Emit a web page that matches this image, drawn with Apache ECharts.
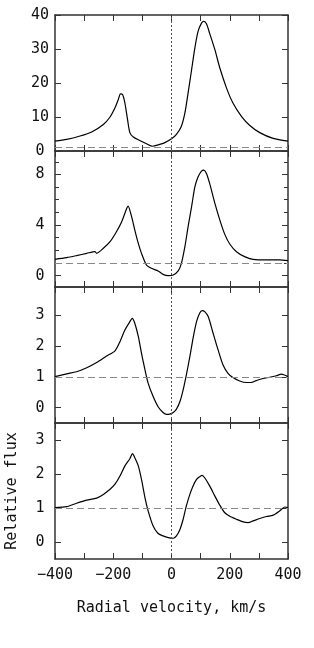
<!DOCTYPE html>
<html>
<head>
<meta charset="utf-8">
<script src="https://cdn.jsdelivr.net/npm/echarts@6/dist/echarts.min.js"></script>
<style>html,body{margin:0;padding:0;background:#fff}#c{width:314px;height:648px}</style>
</head>
<body>
<div id="c"></div>
<script>
// ---- data ----
const vel1 = [-400,-360,-314,-274,-234,-211,-194,-183,-175,-168,-160,-151,-143,-131,-109,-86,-65,-46,-23,0,17,34,46,57,69,80,91,103,111,120,131,149,166,189,211,240,269,303,349,400];
const flux1 = [2.9,3.4,4.4,5.6,7.8,10.0,12.7,15.1,16.8,16.6,14.1,9.3,5.4,4.1,3.1,2.15,1.4,1.8,2.45,3.6,4.9,7.3,11.2,17.1,23.9,30.2,35.1,37.6,38.1,37.4,34.6,29.8,24.4,18.5,14.1,10.2,7.5,5.4,3.7,2.9];

const vel2 = [-400,-360,-326,-291,-263,-257,-234,-211,-189,-171,-154,-149,-137,-126,-114,-103,-86,-69,-46,-29,-11,6,23,34,46,57,69,80,91,103,111,120,131,149,166,183,200,223,251,280,326,371,400];
const flux2 = [1.29,1.42,1.58,1.76,1.9,1.76,2.16,2.68,3.47,4.26,5.3,5.5,4.66,3.6,2.55,1.76,0.84,0.58,0.37,0.1,0.0,0.05,0.37,0.97,2.29,3.87,5.45,7.0,7.8,8.26,8.34,8.08,7.29,5.71,4.39,3.26,2.5,1.89,1.5,1.29,1.24,1.24,1.18];

const vel3 = [-400,-360,-326,-291,-257,-223,-194,-177,-160,-143,-135,-126,-114,-103,-91,-80,-63,-46,-29,-17,-6,6,17,29,40,51,63,74,86,97,105,114,126,143,160,177,194,211,234,257,274,291,314,337,360,377,400];
const flux3 = [1.01,1.1,1.17,1.3,1.47,1.68,1.85,2.15,2.53,2.8,2.91,2.75,2.32,1.77,1.23,0.79,0.36,0.03,-0.16,-0.22,-0.21,-0.16,-0.05,0.2,0.58,1.07,1.66,2.26,2.8,3.08,3.16,3.13,2.97,2.42,1.88,1.39,1.12,0.98,0.87,0.82,0.82,0.88,0.95,0.99,1.04,1.09,1.01];

const vel4 = [-400,-360,-326,-291,-257,-234,-211,-194,-177,-160,-143,-134,-126,-114,-103,-91,-80,-63,-46,-29,-11,6,17,29,40,51,63,74,86,97,105,114,131,149,166,183,200,223,246,263,280,303,326,349,371,389,400];
const flux4 = [1.01,1.04,1.14,1.23,1.29,1.4,1.55,1.7,1.94,2.24,2.45,2.6,2.48,2.24,1.84,1.3,0.91,0.47,0.25,0.18,0.13,0.11,0.18,0.37,0.67,1.06,1.4,1.65,1.84,1.92,1.96,1.89,1.65,1.35,1.08,0.86,0.76,0.67,0.59,0.57,0.62,0.69,0.75,0.79,0.91,1.03,1.01];

const yTicks1 = [0,10,20,30,40];
const yTicks2 = [0,4,8];
const yMinor2 = [1,2,3,5,6,7,9];
const yTicks3 = [0,1,2,3];
const yTicks4 = [0,1,2,3];
const xTickLabels = [-400,-200,0,200,400];
const xName = 'Radial velocity, km/s';
const yName = 'Relative flux';

// ---- layout ----
const FONT = 'DejaVu Sans Mono';
const FRAME = '#333';
const panels = [
  {top:15,  height:136, min:0,    max:40,   ticks:yTicks1, minor:null,   vel:vel1, flux:flux1},
  {top:151, height:136, min:-0.9, max:9.85, ticks:yTicks2, minor:yMinor2, vel:vel2, flux:flux2},
  {top:287, height:136, min:-0.5, max:3.93, ticks:yTicks3, minor:null,   vel:vel3, flux:flux3},
  {top:423, height:136, min:-0.5, max:3.5,  ticks:yTicks4, minor:null,   vel:vel4, flux:flux4}
];

const grid = [], xAxis = [], yAxis = [], series = [];
const fmtNum = v => (v < 0 ? '\u2212' + Math.abs(v) : String(v));

panels.forEach((p, i) => {
  grid.push({left:55, width:233, top:p.top, height:p.height, containLabel:false, outerBoundsMode:'none'});
  const last = i === panels.length - 1;
  ['bottom','top'].forEach(pos => {
    xAxis.push({
      type:'value', gridIndex:i, position:pos, min:-400, max:400, interval:100,
      axisLine:{show:true, onZero:false, lineStyle:{color:FRAME, width:1.5}},
      axisTick:{show:true, inside:true, length:6, lineStyle:{color:FRAME, width:1}},
      splitLine:{show:false},
      axisLabel:{show: last && pos==='bottom', margin:9, color:'#111', fontFamily:FONT, fontSize:15,
        formatter: v => (xTickLabels.indexOf(v) >= 0 ? fmtNum(v) : '')},
      name: (last && pos==='bottom') ? xName : '',
      nameLocation:'middle', nameGap:42,
      nameTextStyle:{color:'#111', fontFamily:FONT, fontSize:15}
    });
  });
  ['left','right'].forEach(pos => {
    yAxis.push({
      type:'value', gridIndex:i, position:pos, min:p.min, max:p.max,
      axisLine:{show:true, onZero:false, lineStyle:{color:FRAME, width:1.5}},
      axisTick:{show:true, inside:true, length:6, customValues:p.ticks, lineStyle:{color:FRAME, width:1}},
      splitLine:{show:false},
      axisLabel:{show: pos==='left', customValues:p.ticks, margin:15, align:'center',
        color:'#111', fontFamily:FONT, fontSize:15},
      name: (last && pos==='left') ? yName : '',
      nameLocation:'middle', nameGap:35, nameRotate:90,
      nameTextStyle:{color:'#111', fontFamily:FONT, fontSize:15}
    });
    if (p.minor) {
      yAxis.push({
        type:'value', gridIndex:i, position:pos, min:p.min, max:p.max,
        axisLine:{show:false, onZero:false},
        axisTick:{show:true, inside:true, length:4, customValues:p.minor, lineStyle:{color:FRAME, width:1}},
        splitLine:{show:false}, axisLabel:{show:false}
      });
    }
  });
  const yIdx = yAxis.findIndex(a => a.gridIndex === i && a.position === 'left');
  series.push({
    type:'line', xAxisIndex:i*2, yAxisIndex:yIdx,
    data: p.vel.map((v, k) => [v, p.flux[k]]),
    showSymbol:false, smooth:0.25, silent:true,
    lineStyle:{color:'#000', width:1.2},
    markLine:{
      silent:true, symbol:'none', label:{show:false},
      data:[
        {yAxis:1, lineStyle:{color:'#888', width:1.2, type:[7,4]}},
        {xAxis:0, lineStyle:{color:'#555', width:1, type:[2,2]}}
      ]
    }
  });
});

const chart = echarts.init(document.getElementById('c'), null, {renderer:'canvas'});
chart.setOption({animation:false, backgroundColor:'#fff', grid, xAxis, yAxis, series});
</script>
</body>
</html>
